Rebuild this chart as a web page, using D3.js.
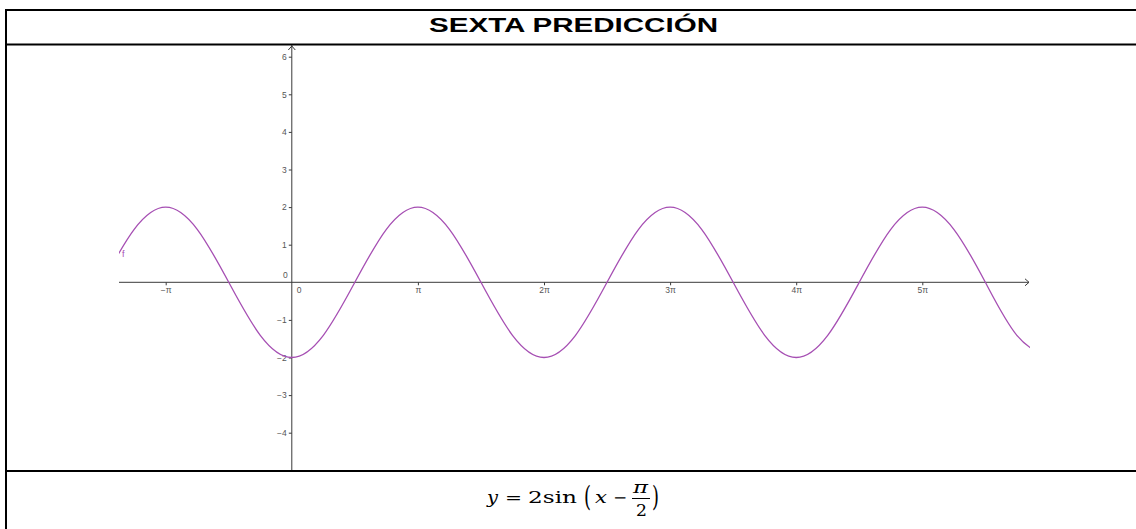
<!DOCTYPE html>
<html>
<head>
<meta charset="utf-8">
<script src="https://cdn.jsdelivr.net/npm/d3@7"></script>
<style>
  html, body { margin: 0; padding: 0; background: #fff; }
  svg { display: block; }
</style>
</head>
<body>
<script>
// values (x in multiples of pi)
const title = "SEXTA PREDICCIÓN";
const curveName = "f";
const xPi = [-1.5, -1.25, -1, -0.75, -0.5, -0.25, 0, 0.25, 0.5, 0.75, 1, 1.25, 1.5, 1.75, 2, 2.25, 2.5, 2.75,
             3, 3.25, 3.5, 3.75, 4, 4.25, 4.5, 4.75, 5, 5.25, 5.5, 5.75, 6];
const yVals = [0, 1.41, 2, 1.41, 0, -1.41, -2, -1.41, 0, 1.41, 2, 1.41, 0, -1.41, -2, -1.41, 0, 1.41,
               2, 1.41, 0, -1.41, -2, -1.41, 0, 1.41, 2, 1.41, 0, -1.41, -2];
const xTicksPi = [-1, 1, 2, 3, 4, 5];
const xTickLabels = ["−π", "π", "2π", "3π", "4π", "5π"];
const yTicks = [-4, -3, -2, -1, 1, 2, 3, 4, 5, 6];

const W = 1136, H = 529;
const curveColor = "#a64fb3";
const axisColor = "#3a3a3a";
const labelColor = "#555";
const sans = "Arial, 'Liberation Sans', sans-serif";

const svg = d3.select("body").append("svg").attr("width", W).attr("height", H);

// graphics view (inside the table cell)
const view = { left: 119, right: 1030, top: 45, bottom: 470 };
const x = d3.scaleLinear().domain([-1, 5]).range([165.7, 922.3]);
const y = d3.scaleLinear().domain([0, 6]).range([282.3, 56.7]);

svg.append("clipPath").attr("id", "view")
  .append("rect")
  .attr("x", view.left).attr("y", view.top)
  .attr("width", view.right - view.left).attr("height", view.bottom - view.top);

// axes lines
svg.append("line")
  .attr("x1", view.left).attr("x2", view.right - 1)
  .attr("y1", y(0)).attr("y2", y(0))
  .attr("stroke", axisColor).attr("stroke-width", 1);
svg.append("line")
  .attr("x1", x(0)).attr("x2", x(0))
  .attr("y1", view.top).attr("y2", view.bottom)
  .attr("stroke", axisColor).attr("stroke-width", 1);

// arrow heads
svg.append("path")
  .attr("d", `M${view.right - 5},${y(0) - 3.5}L${view.right - 1},${y(0)}L${view.right - 5},${y(0) + 3.5}`)
  .attr("fill", "none").attr("stroke", axisColor).attr("stroke-width", 1);
svg.append("path")
  .attr("d", `M${x(0) - 3.5},${view.top + 5}L${x(0)},${view.top + 1}L${x(0) + 3.5},${view.top + 5}`)
  .attr("fill", "none").attr("stroke", axisColor).attr("stroke-width", 1);

// x axis ticks + labels
const xAxis = d3.axisBottom(x)
  .tickValues(xTicksPi)
  .tickFormat((d, i) => xTickLabels[i])
  .tickSizeInner(3).tickSizeOuter(0).tickPadding(2);
const gx = svg.append("g").attr("transform", `translate(0,${y(0)})`).call(xAxis);
gx.select(".domain").remove();
gx.selectAll("line").attr("stroke", axisColor);
gx.selectAll("text").attr("fill", labelColor)
  .style("font-family", sans).style("font-size", "8.5px");

// y axis ticks + labels
const yAxis = d3.axisLeft(y)
  .tickValues(yTicks)
  .tickFormat(d => d < 0 ? "−" + Math.abs(d) : d)
  .tickSizeInner(3).tickSizeOuter(0).tickPadding(2);
const gy = svg.append("g").attr("transform", `translate(${x(0)},0)`).call(yAxis);
gy.select(".domain").remove();
gy.selectAll("line").attr("stroke", axisColor);
gy.selectAll("text").attr("fill", labelColor)
  .style("font-family", sans).style("font-size", "8.5px");

// origin labels
svg.append("text").attr("x", x(0) - 4).attr("y", y(0) - 4)
  .attr("text-anchor", "end").attr("fill", labelColor)
  .style("font-family", sans).style("font-size", "8.5px").text("0");
svg.append("text").attr("x", x(0) + 5).attr("y", y(0) + 11)
  .attr("fill", labelColor)
  .style("font-family", sans).style("font-size", "8.5px").text("0");

// the curve
const pts = xPi.map((d, i) => [d, yVals[i]]);
const line = d3.line().x(d => x(d[0])).y(d => y(d[1])).curve(d3.curveNatural);
svg.append("path")
  .datum(pts)
  .attr("clip-path", "url(#view)")
  .attr("d", line)
  .attr("fill", "none").attr("stroke", curveColor).attr("stroke-width", 1.3);

svg.append("text").attr("x", view.left + 3).attr("y", 257)
  .attr("fill", curveColor)
  .style("font-family", sans).style("font-size", "9px").text(curveName);

// table borders
const border = (x1, y1, x2, y2) => svg.append("line")
  .attr("x1", x1).attr("y1", y1).attr("x2", x2).attr("y2", y2)
  .attr("stroke", "#000").attr("stroke-width", 2);
border(5, 10, W, 10);
border(5, 44.5, W, 44.5);
border(5, 471, W, 471);
border(6, 9, 6, H);

// title (the picture is stretched sideways, so force its width)
svg.append("text")
  .attr("x", 429).attr("y", 32)
  .attr("textLength", 289).attr("lengthAdjust", "spacingAndGlyphs")
  .style("font-family", sans)
  .style("font-weight", "bold").style("font-size", "20px")
  .text(title);

// formula  y = 2sin(x − π/2)
const fm = svg.append("g").style("font-family", "'DejaVu Serif', 'Liberation Serif', serif").attr("fill", "#000");
const base = 503;
const piece = (txt, x0, w, yb, size, italic) => fm.append("text")
  .attr("x", x0).attr("y", yb)
  .attr("textLength", w).attr("lengthAdjust", "spacingAndGlyphs")
  .style("font-size", size + "px").style("font-style", italic ? "italic" : "normal")
  .text(txt);
piece("y", 487, 11, base, 16, true);
piece("=", 505, 17, base, 16, false);
piece("2sin", 528, 49, base, 16, false);
piece("(", 584, 7, 506, 28, false);
piece("x", 595, 12, base, 16, true);
piece("−", 613, 14, base, 16, false);
piece("π", 633, 15, 493, 16, true);
fm.append("line").attr("x1", 632).attr("x2", 650).attr("y1", 498.5).attr("y2", 498.5).attr("stroke", "#000").attr("stroke-width", 1);
piece("2", 636, 11, 516, 16, false);
piece(")", 652, 7, 506, 28, false);
</script>
</body>
</html>
